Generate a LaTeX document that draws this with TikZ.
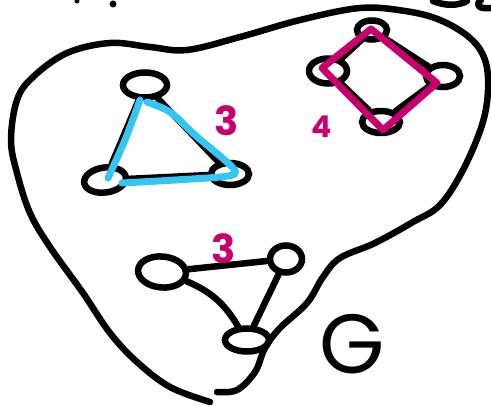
\documentclass[tikz,border=0pt]{standalone}
\usepackage{fontspec}
\setmainfont{Poppins}
\usetikzlibrary{shapes.geometric}
\definecolor{skyb}{HTML}{35C5F2}
\definecolor{mag}{HTML}{C8006E}
\tikzset{
  ink/.style={line width=6.5pt, line cap=round, line join=round},
  vert/.style={ellipse, draw, line width=6.5pt, inner sep=0pt},
  edgeline/.style={ink},
  hilite/.style={line width=7pt, line cap=round, line join=round},
  num/.style={text=mag, font=\fontsize{40}{40}\selectfont\bfseries, inner sep=0pt},
}
\begin{document}
\begin{tikzpicture}[x=1pt,y=-1pt]
\useasboundingbox (0,0) rectangle (491,406);
% outline
\draw[ink] plot[smooth, tension=0.6] coordinates {(210,402) (170,387) (137,362) (110,333) (83,293) (50,247) (30,213) (17,173) (11,140) (17,100) (33,77) (67,53) (110,43) (150,47) (187,50) (240,37) (300,20) (360,8) (405,11) (440,20) (470,38) (485,60) (488,90) (482,125) (463,170) (440,205) (413,222) (375,243) (340,258) (323,277) (307,303) (280,328) (265,348) (255,372) (237,390) (217,392)};
% cut-off fragments at top
\fill (77,1) circle (2.5pt);
\fill (113,4) circle (3.5pt);
\draw[ink] (433,1) .. controls (445,6) and (458,6) .. (467,1);
\draw[ink] (481,0) .. controls (474,6) and (480,9) .. (491,8);
% triangle
\node[vert, minimum width=44pt, minimum height=25pt] (t1) at (145,85) {};
\node[vert, minimum width=42pt, minimum height=25pt, rotate=8] (t2) at (105,180) {};
\node[vert, minimum width=38pt, minimum height=22pt] (t3) at (230,174) {};
\draw[edgeline] (t1) -- (t2);
\draw[edgeline] (t2) -- (t3);
\draw[edgeline] (t1) -- (t3);
\draw[hilite, skyb] plot[smooth] coordinates {(108,178) (125,140) (140,100)};
\draw[hilite, skyb] plot[smooth, tension=0.5] coordinates {(147,102) (170,112) (195,135) (233,168) (228,176) (175,180) (122,183)};
\node[num] (n3a) at (227,121) {3};
% square
\node[vert, minimum width=30pt, minimum height=19pt] (s1) at (372,30) {};
\node[vert, minimum width=38pt, minimum height=25pt] (s2) at (328,71) {};
\node[vert, minimum width=34pt, minimum height=22pt] (s3) at (443,76) {};
\node[vert, minimum width=38pt, minimum height=22pt] (s4) at (381,122) {};
\draw[edgeline] (s1) -- (s2);
\draw[edgeline] (s1) -- (s3);
\draw[edgeline] (s2) -- (s4);
\draw[edgeline] (s3) -- (s4);
\draw[hilite, mag] (371,29) -- (437,83) -- (383,130) -- (322,68) -- cycle;
\node[num, font=\fontsize{30}{30}\selectfont\bfseries] (n4) at (322,127) {4};
% bottom graph
\node[vert, minimum width=48pt, minimum height=31pt, rotate=-5] (b1) at (162,272) {};
\node[vert, minimum width=32pt, minimum height=27pt] (b2) at (286,259) {};
\node[vert, minimum width=44pt, minimum height=23pt] (b3) at (247,340) {};
\draw[edgeline] (b1) -- (b2);
\draw[edgeline] (b2) -- (b3);
\draw[edgeline] (b1) to[bend left=18] (b3);
\node[num] (n3b) at (224,249) {3};
\node[font=\fontsize{84}{84}\selectfont, inner sep=0pt] (g) at (352,344) {G};
\end{tikzpicture}
\end{document}
